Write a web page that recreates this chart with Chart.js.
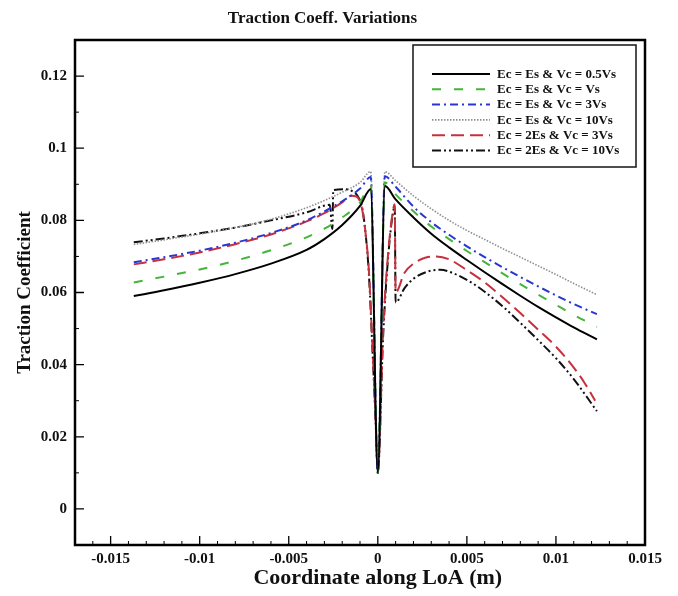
<!DOCTYPE html>
<html>
<head>
<meta charset="utf-8">
<script src="https://cdn.jsdelivr.net/npm/chart.js@4.4.1/dist/chart.umd.min.js"></script>
<style>
  html, body { margin: 0; padding: 0; background: #fff; }
  #wrap { width: 678px; height: 596px; }
</style>
</head>
<body>
<div id="wrap"><canvas id="tractionChart" width="678" height="596"></canvas></div>
<script>
// Series: traction coefficient along the line of action (x in m)
const seriesLabels = [
  'Ec = Es & Vc = 0.5Vs',
  'Ec = Es & Vc = Vs',
  'Ec = Es & Vc = 3Vs',
  'Ec = Es & Vc = 10Vs',
  'Ec = 2Es & Vc = 3Vs',
  'Ec = 2Es & Vc = 10Vs'
];

const es05X = [-0.0137, -0.012, -0.010, -0.008, -0.006, -0.004, -0.003, -0.002, -0.001, -0.0004, 0,
  0.0004, 0.001, 0.002, 0.003, 0.004, 0.005, 0.006, 0.007, 0.008, 0.009, 0.010, 0.011, 0.0123];
const es05Y = [0.0590, 0.0606, 0.0627, 0.0651, 0.0680, 0.0718, 0.0748, 0.0787, 0.0840, 0.0886, 0.0100,
  0.0895, 0.0858, 0.0808, 0.0763, 0.0725, 0.0690, 0.0656, 0.0623, 0.0591, 0.0560, 0.0531, 0.0503, 0.0470];

const es1X = [-0.0137, -0.012, -0.010, -0.008, -0.006, -0.004, -0.003, -0.002, -0.001, -0.0004, 0,
  0.0004, 0.001, 0.002, 0.003, 0.004, 0.005, 0.006, 0.007, 0.008, 0.009, 0.010, 0.011, 0.0123];
const es1Y = [0.0628, 0.0644, 0.0664, 0.0688, 0.0717, 0.0753, 0.0777, 0.0808, 0.0850, 0.0898, 0.0100,
  0.0905, 0.0872, 0.0825, 0.0783, 0.0748, 0.0715, 0.0684, 0.0653, 0.0623, 0.0594, 0.0566, 0.0538, 0.0505];

const es3X = [-0.0137, -0.012, -0.010, -0.008, -0.006, -0.004, -0.003, -0.002, -0.001, -0.0004, 0,
  0.0004, 0.001, 0.002, 0.003, 0.004, 0.005, 0.006, 0.007, 0.008, 0.009, 0.010, 0.011, 0.0123];
const es3Y = [0.0684, 0.0698, 0.0716, 0.0738, 0.0765, 0.0800, 0.0825, 0.0853, 0.0888, 0.0920, 0.0100,
  0.0922, 0.0893, 0.0838, 0.0795, 0.0760, 0.0728, 0.0698, 0.0670, 0.0643, 0.0617, 0.0592, 0.0568, 0.0540];

const es10X = [-0.0137, -0.012, -0.010, -0.008, -0.006, -0.004, -0.003, -0.002, -0.001, -0.0004, 0,
  0.0004, 0.001, 0.002, 0.003, 0.004, 0.005, 0.006, 0.007, 0.008, 0.009, 0.010, 0.011, 0.0123];
const es10Y = [0.0733, 0.0746, 0.0762, 0.0780, 0.0803, 0.0835, 0.0855, 0.0878, 0.0905, 0.0935, 0.0100,
  0.0935, 0.0910, 0.0868, 0.0832, 0.0800, 0.0772, 0.0747, 0.0722, 0.0698, 0.0674, 0.0650, 0.0625, 0.0594];

const es2v3X = [-0.0137, -0.012, -0.010, -0.008, -0.006, -0.004, -0.003, -0.002, -0.0015, -0.0012, -0.0009, -0.0007, -0.0005, -0.0003, -0.00012, 0,
  0.0003, 0.0006, 0.0009, 0.00095, 0.001, 0.0015, 0.002, 0.0027, 0.0033, 0.004, 0.005, 0.006, 0.007, 0.008, 0.009, 0.010, 0.011, 0.0116, 0.0122];
const es2v3Y = [0.0678, 0.0692, 0.0711, 0.0734, 0.0761, 0.0797, 0.0820, 0.0850, 0.0868, 0.0866, 0.0835, 0.0770, 0.0660, 0.0450, 0.0250, 0.0100,
  0.0500, 0.0720, 0.0840, 0.0845, 0.0600, 0.0655, 0.0680, 0.0697, 0.0700, 0.0692, 0.0662, 0.0628, 0.0587, 0.0543, 0.0497, 0.0450, 0.0392, 0.0350, 0.0300];

const es2v10X = [-0.0137, -0.012, -0.010, -0.008, -0.006, -0.004, -0.0027, -0.00255, -0.0025, -0.0018, -0.0014, -0.0011, -0.0009, -0.0007, -0.0005, -0.0003, -0.00012, 0,
  0.0003, 0.0006, 0.0009, 0.00095, 0.001, 0.0015, 0.002, 0.0028, 0.0035, 0.0043, 0.0053, 0.006, 0.007, 0.008, 0.009, 0.010, 0.011, 0.0123];
const es2v10Y = [0.0739, 0.0750, 0.0764, 0.0780, 0.0800, 0.0822, 0.0843, 0.0776, 0.0884, 0.0886, 0.0880, 0.0865, 0.0840, 0.0770, 0.0650, 0.0440, 0.0240, 0.0100,
  0.0480, 0.0710, 0.0835, 0.0840, 0.0572, 0.0612, 0.0638, 0.0658, 0.0663, 0.0652, 0.0626, 0.0602, 0.0562, 0.0516, 0.0468, 0.0418, 0.0360, 0.0271];

const xTicks = [-0.015, -0.01, -0.005, 0, 0.005, 0.01, 0.015];
const yTicks = [0, 0.02, 0.04, 0.06, 0.08, 0.1, 0.12];
const xTitle = 'Coordinate along LoA (m)';

const serif = "'Liberation Serif', 'DejaVu Serif', serif";

function pts(xs, ys) {
  return xs.map((x, i) => ({ x: x, y: ys[i] }));
}

const lineStyles = [
  { color: '#000000', dash: [], width: 2 },
  { color: '#45b53a', dash: [9, 13], width: 2 },
  { color: '#2a36d0', dash: [8, 4, 2, 4], width: 2 },
  { color: '#8f8f8f', dash: [1.5, 1.5], width: 1.6 },
  { color: '#c7303c', dash: [13, 6], width: 2 },
  { color: '#111111', dash: [9, 3, 2, 3, 2, 3], width: 2 }
];

const seriesData = [
  pts(es05X, es05Y), pts(es1X, es1Y), pts(es3X, es3Y),
  pts(es10X, es10Y), pts(es2v3X, es2v3Y), pts(es2v10X, es2v10Y)
];

// frame, inward tick marks, x title and the boxed legend inside the plot
const framePlugin = {
  id: 'framePlugin',
  afterDraw(chart) {
    const { ctx, chartArea: a, scales } = chart;
    const xs = scales.x, ys = scales.y;
    ctx.save();
    ctx.strokeStyle = '#000';
    ctx.lineWidth = 1.3;
    ctx.beginPath();
    xTicks.forEach(v => {
      const px = xs.getPixelForValue(v);
      ctx.moveTo(px, a.bottom); ctx.lineTo(px, a.bottom - 9);
    });
    yTicks.forEach(v => {
      const py = ys.getPixelForValue(v);
      ctx.moveTo(a.left, py); ctx.lineTo(a.left + 9, py);
    });
    ctx.stroke();
    ctx.lineWidth = 1;
    ctx.beginPath();
    for (let k = -17; k <= 15; k++) {
      if (k % 5 === 0) continue;
      const px = xs.getPixelForValue(k / 1000);
      ctx.moveTo(px, a.bottom); ctx.lineTo(px, a.bottom - 4);
    }
    for (let k = -1; k <= 13; k += 2) {
      const py = ys.getPixelForValue(k / 100);
      ctx.moveTo(a.left, py); ctx.lineTo(a.left + 4, py);
    }
    ctx.stroke();
    ctx.lineWidth = 2.5;
    ctx.strokeRect(a.left, a.top, a.right - a.left, a.bottom - a.top);

    // x axis title, centred under the zero tick
    ctx.fillStyle = '#111';
    ctx.font = "bold 22px " + serif;
    ctx.textAlign = 'center';
    ctx.textBaseline = 'middle';
    ctx.fillText(xTitle, xs.getPixelForValue(0), 578);

    // legend
    const lx = 413, ly = 45, lw = 223, lh = 122;
    ctx.fillStyle = '#fff';
    ctx.fillRect(lx, ly, lw, lh);
    ctx.lineWidth = 1.6;
    ctx.strokeStyle = '#222';
    ctx.strokeRect(lx, ly, lw, lh);
    ctx.font = "bold 13px " + serif;
    ctx.textBaseline = 'middle';
    ctx.textAlign = 'left';
    chart.data.datasets.forEach((ds, i) => {
      const y = 74 + i * 15.3;
      ctx.beginPath();
      ctx.setLineDash(ds.borderDash || []);
      ctx.strokeStyle = ds.borderColor;
      ctx.lineWidth = ds.borderWidth;
      ctx.moveTo(432, y); ctx.lineTo(490, y);
      ctx.stroke();
      ctx.setLineDash([]);
      ctx.fillStyle = '#111';
      ctx.fillText(ds.label, 497, y + 0.5);
    });
    ctx.restore();
  }
};

new Chart(document.getElementById('tractionChart'), {
  type: 'scatter',
  data: {
    datasets: seriesLabels.map((label, i) => ({
      label: label,
      data: seriesData[i],
      showLine: true,
      borderColor: lineStyles[i].color,
      backgroundColor: lineStyles[i].color,
      borderDash: lineStyles[i].dash,
      borderWidth: lineStyles[i].width,
      pointRadius: 0,
      cubicInterpolationMode: 'monotone'
    }))
  },
  options: {
    responsive: false,
    animation: false,
    layout: { padding: { left: 0, right: 33, top: 0, bottom: 0 } },
    plugins: {
      legend: { display: false },
      tooltip: { enabled: false },
      title: {
        display: true,
        text: 'Traction Coeff. Variations',
        color: '#111',
        font: { family: serif, size: 17, weight: 'bold' },
        padding: { top: 8, bottom: 11.6 }
      }
    },
    scales: {
      x: {
        type: 'linear',
        min: -0.017,
        max: 0.015,
        grid: { display: false, drawTicks: false },
        border: { display: false },
        afterBuildTicks: s => { s.ticks = xTicks.map(v => ({ value: v })); },
        afterFit: s => { s.height = 51; },
        ticks: {
          padding: 5,
          color: '#111',
          font: { family: serif, size: 15, weight: 'bold' },
          maxRotation: 0,
          callback: v => String(+Number(v).toFixed(4))
        },
        title: { display: false, text: xTitle }
      },
      y: {
        type: 'linear',
        min: -0.01,
        max: 0.13,
        grid: { display: false, drawTicks: false },
        border: { display: false },
        afterBuildTicks: s => { s.ticks = yTicks.map(v => ({ value: v })); },
        afterFit: s => { s.width = 75; },
        ticks: {
          padding: 8,
          color: '#111',
          font: { family: serif, size: 15, weight: 'bold' },
          callback: v => String(+Number(v).toFixed(4))
        },
        title: {
          display: true,
          text: 'Traction Coefficient',
          color: '#111',
          font: { family: serif, size: 19, weight: 'bold' },
          padding: { top: 13.6, bottom: 0 }
        }
      }
    }
  },
  plugins: [framePlugin]
});
</script>
</body>
</html>
